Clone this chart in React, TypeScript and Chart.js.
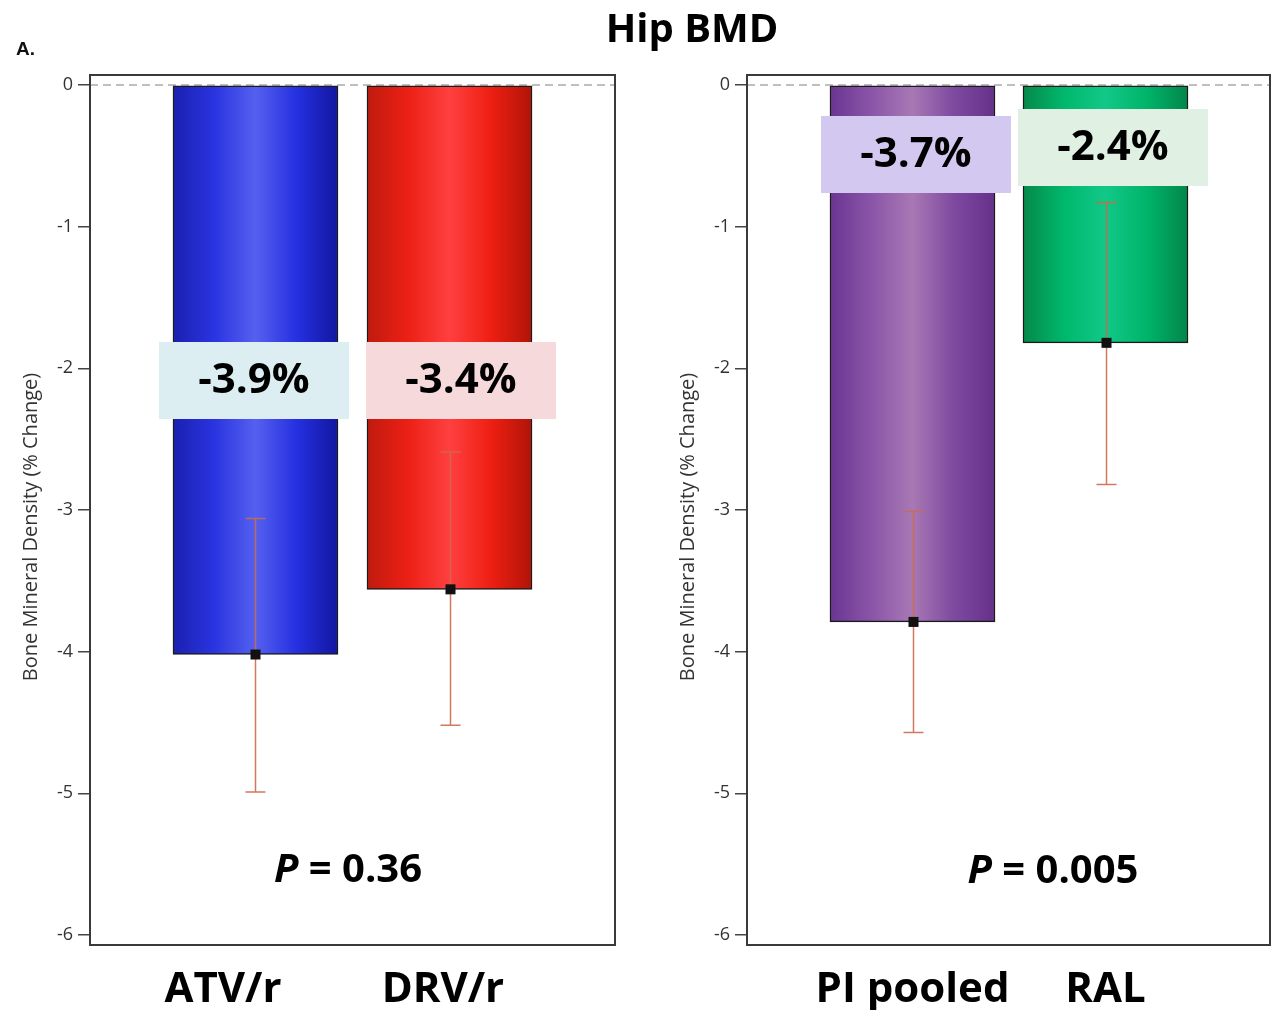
import React, { useEffect, useRef } from "react";
import { Chart, registerables } from "chart.js";

Chart.register(...registerables);

// ---- Data ----
const leftCategories = ["ATV/r", "DRV/r"];
const leftMeans = [-4.02, -3.56];
const leftLower = [-4.99, -4.52];
const leftUpper = [-3.06, -2.59];
const leftLabels = ["-3.9%", "-3.4%"];
const leftP = "0.36";

const rightCategories = ["PI pooled", "RAL"];
const rightMeans = [-3.79, -1.82];
const rightLower = [-4.57, -2.82];
const rightUpper = [-3.01, -0.83];
const rightLabels = ["-3.7%", "-2.4%"];
const rightP = "0.005";

const yTicks = [0, -1, -2, -3, -4, -5, -6];
const yAxisTitle = "Bone Mineral Density (% Change)";
const chartTitle = "Hip BMD";

// ---- Styles ----
const BIG_FONT = "'Open Sans', 'DejaVu Sans', sans-serif";
const SMALL_FONT = "'Open Sans', 'Liberation Sans', sans-serif";
const BAR_W = 165;

type Panel = {
  categories: string[];
  means: number[];
  lower: number[];
  upper: number[];
  labels: string[];
  p: string;
  xMin: number;
  xMax: number;
  labelPos: number[];
  yAxisWidth: number;
  yTitleX: number;
  padRight: number;
  stops: string[][];
  boxColors: string[];
  boxDx: number[];
  boxY: number[];
  pX: number;
  pY: number;
};

const leftPanel: Panel = {
  categories: leftCategories,
  means: leftMeans,
  lower: leftLower,
  upper: leftUpper,
  labels: leftLabels,
  p: leftP,
  xMin: 0.147,
  xMax: 2.853,
  labelPos: [0.8325, 1.966],
  yAxisWidth: 90,
  yTitleX: 31,
  padRight: 21,
  stops: [
    ["#1a20b0", "#2a34e0", "#5560f0", "#2530e0", "#1216a0"],
    ["#c01a0e", "#ec2015", "#ff4040", "#ee1f12", "#b01408"],
  ],
  boxColors: ["#ddeef2", "#f5d9db"],
  boxDx: [-1.5, 11.5],
  boxY: [380.5, 380.5],
  pX: 348,
  pY: 871,
};

const rightPanel: Panel = {
  categories: rightCategories,
  means: rightMeans,
  lower: rightLower,
  upper: rightUpper,
  labels: rightLabels,
  p: rightP,
  xMin: 0.1425,
  xMax: 2.8523,
  labelPos: [1, 2],
  yAxisWidth: 111,
  yTitleX: 52,
  padRight: 2,
  stops: [
    ["#6a3592", "#8a55a8", "#a878b4", "#7e4aa0", "#663088"],
    ["#05894a", "#00b86c", "#12c888", "#00b46a", "#02864a"],
  ],
  boxColors: ["#d3c8f0", "#e0f0e2"],
  boxDx: [3.5, 7.5],
  boxY: [154.5, 147.5],
  pX: 417,
  pY: 872,
};

function panelPlugin(p: Panel) {
  return {
    id: "panelDecor",
    beforeDatasetsDraw(chart: any) {
      const { ctx, chartArea } = chart;
      const y0 = chart.scales.y.getPixelForValue(0);
      ctx.save();
      ctx.strokeStyle = "#aaaaaa";
      ctx.lineWidth = 1.5;
      ctx.setLineDash([8, 5]);
      ctx.beginPath();
      ctx.moveTo(chartArea.left, y0);
      ctx.lineTo(chartArea.right, y0);
      ctx.stroke();
      ctx.restore();
    },
    afterDatasetsDraw(chart: any) {
      const { ctx, chartArea } = chart;
      const xs = chart.scales.x;
      const ys = chart.scales.y;
      ctx.save();
      // error bars
      p.means.forEach((m, i) => {
        const cx = Math.round(xs.getPixelForValue(i + 1)) + 0.5;
        const yHi = ys.getPixelForValue(p.upper[i]);
        const yLo = ys.getPixelForValue(p.lower[i]);
        ctx.strokeStyle = "rgba(205,105,75,0.9)";
        ctx.lineWidth = 1.5;
        ctx.beginPath();
        ctx.moveTo(cx, yHi);
        ctx.lineTo(cx, yLo);
        ctx.moveTo(cx - 10, yHi);
        ctx.lineTo(cx + 10, yHi);
        ctx.moveTo(cx - 10, yLo);
        ctx.lineTo(cx + 10, yLo);
        ctx.stroke();
        const ym = ys.getPixelForValue(m);
        ctx.fillStyle = "#111";
        ctx.fillRect(cx - 5, ym - 5, 10, 10);
      });
      // label boxes
      p.labels.forEach((lab, i) => {
        const cx = xs.getPixelForValue(i + 1) + p.boxDx[i];
        const cy = p.boxY[i];
        ctx.fillStyle = p.boxColors[i];
        ctx.fillRect(cx - 95, cy - 38.5, 190, 77);
        ctx.fillStyle = "#000";
        ctx.font = `bold 42px ${BIG_FONT}`;
        ctx.textAlign = "center";
        ctx.textBaseline = "middle";
        ctx.fillText(lab, cx, cy + 1);
      });
      // P value
      ctx.textBaseline = "middle";
      ctx.textAlign = "left";
      ctx.font = `italic bold 40px ${BIG_FONT}`;
      const wP = ctx.measureText("P").width;
      ctx.font = `bold 40px ${BIG_FONT}`;
      const rest = " = " + p.p;
      const wR = ctx.measureText(rest).width;
      const x0 = p.pX - (wP + wR) / 2;
      ctx.fillStyle = "#000";
      ctx.font = `italic bold 40px ${BIG_FONT}`;
      ctx.fillText("P", x0, p.pY);
      ctx.font = `bold 40px ${BIG_FONT}`;
      ctx.fillText(rest, x0 + wP, p.pY);
      // frame
      ctx.strokeStyle = "#3a3a3a";
      ctx.lineWidth = 2;
      ctx.setLineDash([]);
      ctx.strokeRect(chartArea.left, chartArea.top, chartArea.right - chartArea.left, chartArea.bottom - chartArea.top);
      // y axis title (rotated)
      ctx.translate(p.yTitleX, 527);
      ctx.rotate(-Math.PI / 2);
      ctx.font = `20px ${SMALL_FONT}`;
      ctx.fillStyle = "#333";
      ctx.textAlign = "center";
      ctx.textBaseline = "middle";
      ctx.fillText(yAxisTitle, 0, 0);
      ctx.restore();
    },
  };
}

function makeChart(canvas: HTMLCanvasElement, p: Panel) {
  return new Chart(canvas, {
    type: "bar",
    data: {
      datasets: [
        {
          data: p.means.map((m, i) => ({ x: i + 1, y: m })) as any,
          backgroundColor: (c: any) => {
            const chart = c.chart;
            const xs = chart.scales && chart.scales.x;
            const stops = p.stops[c.dataIndex] || p.stops[0];
            if (!xs || !chart.chartArea) return stops[2];
            const cx = xs.getPixelForValue(c.dataIndex + 1);
            const g = chart.ctx.createLinearGradient(cx - BAR_W / 2, 0, cx + BAR_W / 2, 0);
            stops.forEach((s: string, k: number) => g.addColorStop(k / (stops.length - 1), s));
            return g;
          },
          borderColor: "#1a1a1a",
          borderWidth: 1.5,
          borderSkipped: false,
          barThickness: BAR_W,
        } as any,
      ],
    },
    options: {
      responsive: false,
      animation: false,
      layout: { padding: { left: 0, top: 75, right: p.padRight, bottom: 0 } },
      plugins: { legend: { display: false }, tooltip: { enabled: false }, title: { display: false } },
      scales: {
        x: {
          type: "linear",
          offset: false,
          bounds: "data",
          min: p.xMin,
          max: p.xMax,
          afterBuildTicks: (s: any) => {
            s.ticks = p.labelPos.map((v) => ({ value: v }));
          },
          afterFit: (s: any) => {
            s.height = 65;
          },
          ticks: {
            autoSkip: false,
            maxRotation: 0,
            minRotation: 0,
            callback: (_v: any, i: number) => p.categories[i],
            font: { family: BIG_FONT, weight: "bold", size: 42 },
            color: "#000",
            padding: 12,
          },
          grid: { display: false },
          border: { display: false },
        },
        y: {
          min: -6.0706,
          max: 0.0706,
          afterBuildTicks: (s: any) => {
            s.ticks = yTicks.map((v) => ({ value: v }));
          },
          afterFit: (s: any) => {
            s.width = p.yAxisWidth;
          },
          ticks: {
            font: { family: SMALL_FONT, size: 18 },
            color: "#333",
            padding: 5,
            callback: (v: any) => String(v),
          },
          grid: { drawOnChartArea: false, tickLength: 12, color: "#444", lineWidth: 1.5 },
          border: { display: false },
          title: { display: false },
        },
      },
    } as any,
    plugins: [panelPlugin(p)],
  });
}

export default function App() {
  const leftRef = useRef<HTMLCanvasElement>(null);
  const rightRef = useRef<HTMLCanvasElement>(null);
  useEffect(() => {
    const c1 = makeChart(leftRef.current!, leftPanel);
    const c2 = makeChart(rightRef.current!, rightPanel);
    return () => {
      c1.destroy();
      c2.destroy();
    };
  }, []);
  return (
    <div style={{ position: "absolute", left: 0, top: 0, width: 1272, height: 1010, background: "#fff", overflow: "hidden" }}>
      <canvas ref={leftRef} width={636} height={1010} style={{ position: "absolute", left: 0, top: 0 }} />
      <canvas ref={rightRef} width={636} height={1010} style={{ position: "absolute", left: 636, top: 0 }} />
      <div
        style={{
          position: "absolute",
          left: 0,
          width: 1384,
          top: 7,
          textAlign: "center",
          font: `bold 40px ${BIG_FONT}`,
          lineHeight: "40px",
          color: "#000",
        }}
      >
        {chartTitle}
      </div>
      <div
        style={{
          position: "absolute",
          left: 16,
          top: 39,
          font: "bold 19px 'Liberation Sans', Arial, sans-serif",
          lineHeight: "20px",
          color: "#111",
        }}
      >
        A.
      </div>
    </div>
  );
}
